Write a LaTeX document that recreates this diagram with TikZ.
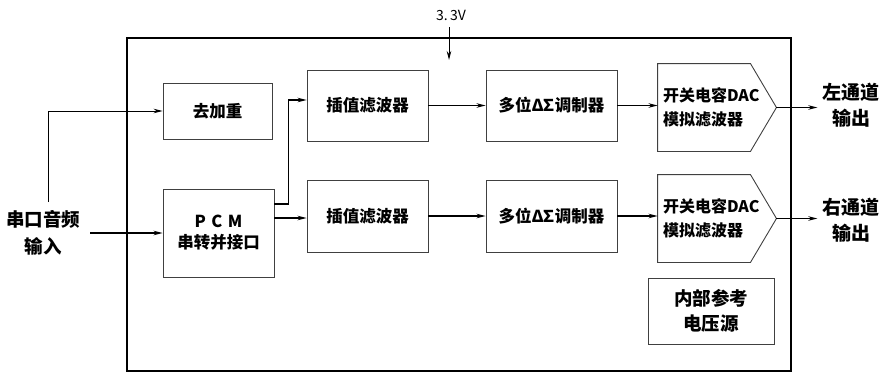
\documentclass[tikz,border=0pt]{standalone}
\usepackage{fontspec}
\setmainfont{Noto Sans CJK SC}
\usetikzlibrary{arrows.meta,calc}
\newcommand{\dsig}{Δ\kern-3.5pt∑\kern-2pt}
\begin{document}
\begin{tikzpicture}[x=1pt,y=-1pt,
  box/.style={draw=black!75,line width=0.9pt,inner sep=0pt,align=center,font=\bfseries\fontsize{16.5}{21}\selectfont},
  dacbox/.style={box,draw=none,minimum width=118pt,minimum height=87pt,text width=108pt,align=left,font=\bfseries\fontsize{16}{24}\selectfont},
  arr/.style={line width=1.4pt,-{Stealth[length=9pt,width=4.5pt]}},
  lbl/.style={align=center,inner sep=4pt,font=\bfseries\fontsize{19}{26}\selectfont}]
\useasboundingbox (0,0) rectangle (888,380);
% outer chip box
\draw[line width=2.5pt] (127,38) rectangle (791,371);
% supply
\node (vdd) at (451,15) {\fontsize{14}{15}\selectfont 3.\,3V};
\coordinate (vddtop) at (449,27);
\draw[line width=0.9pt,-{Stealth[length=9pt,width=4.5pt]}] (vddtop) -- (449,60);
% blocks
\node[box,minimum width=109pt,minimum height=56pt] (deemph) at (217.5,111) {去加重};
\node[box,minimum width=111pt,minimum height=88pt] (pcm) at (218.5,233) {P\,\,C\,\,M\\串转并接口};
\node[box,minimum width=121pt,minimum height=71pt] (interp1) at (367.5,105.5) {插值滤波器};
\node[box,minimum width=121pt,minimum height=72pt] (interp2) at (367.5,216) {插值滤波器};
\node[box,minimum width=131pt,minimum height=71pt] (mod1) at (551.5,105.5) {多位\dsig 调制器};
\node[box,minimum width=131pt,minimum height=72pt] (mod2) at (551.5,216) {多位\dsig 调制器};
\node[dacbox] (dac1) at (717,107.5) {开关电容DAC\\模拟滤波器};
\node[dacbox] (dac2) at (717,218.5) {开关电容DAC\\模拟滤波器};
\foreach \d in {dac1,dac2}
  \draw[draw=black!75,line width=0.9pt] (\d.north west) -- ([xshift=-26pt]\d.north east) -- (\d.east) -- ([xshift=-26pt]\d.south east) -- (\d.south west) -- cycle;
\node[box,minimum width=126pt,minimum height=66pt,font=\bfseries\fontsize{18.5}{25}\selectfont] (ref) at (711,311) {内部参考\\电压源};
% labels
\node[lbl,font=\bfseries\fontsize{18.5}{27}\selectfont] (in) at (43,233) {串口音频\\输入};
\node[lbl,inner sep=5pt] (out1) at (851,105) {左通道\\输出};
\node[lbl,inner sep=5pt] (out2) at (851,220) {右通道\\输出};
% connectors
\coordinate (inA) at (90,233);
\coordinate (inB) at (48,202);
\draw[arr] (inA) -- (pcm.west);
\draw[line width=0.9pt,-{Stealth[length=9pt,width=4.5pt]}] (inB) |- (deemph.west);
\draw[line width=1.2pt,-{Stealth[length=9pt,width=4.5pt]}] ([yshift=29pt]pcm.east) -- ++(14,0) |- ([yshift=5.5pt]interp1.west);
\draw[arr] ([yshift=15pt]pcm.east) -- ([yshift=15pt]pcm.east -| interp2.west);
\draw[arr] (interp1.east) -- (mod1.west);
\draw[arr] (interp2.east) -- (mod2.west);
\draw[arr] (mod1.east) -- (mod1.east -| dac1.west);
\draw[arr] (mod2.east) -- (mod2.east -| dac2.west);
\draw[arr] (dac1.east) -- (dac1.east -| out1.west);
\draw[arr] (dac2.east) -- (dac2.east -| out2.west);
\end{tikzpicture}
\end{document}
